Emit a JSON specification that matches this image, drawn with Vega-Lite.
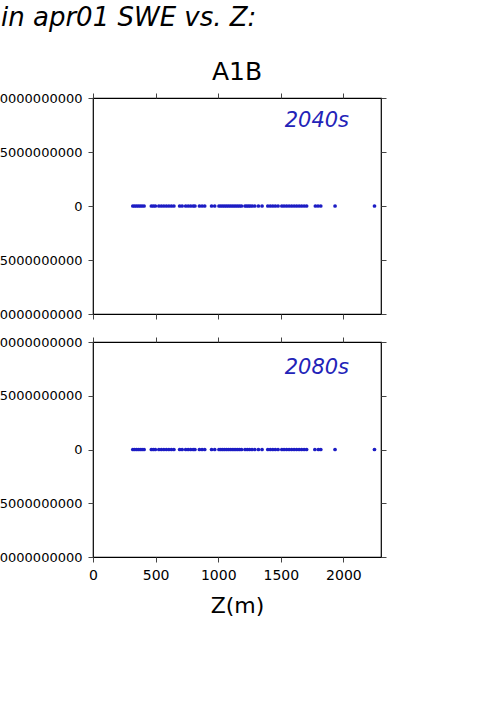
{
  "$schema": "https://vega.github.io/schema/vega-lite/v6.json",
  "autosize": {"type": "pad"},
  "padding": {"left": -21, "top": 5, "right": 0, "bottom": 0},
  "background": "white",
  "title": {"text": "in apr01 SWE vs. Z:", "anchor": "start", "frame": "group", "dx": -92, "fontSize": 26, "fontStyle": "italic", "fontWeight": "normal", "font": "DejaVu Sans", "color": "black", "offset": 28},
  "config": {
    "font": "DejaVu Sans",
    "view": {"stroke": "black", "strokeWidth": 1.2},
    "axis": {"grid": false, "domain": false, "tickColor": "#444", "tickSize": 5, "tickWidth": 1, "labelFont": "DejaVu Sans", "labelFontSize": 13, "labelColor": "black", "labelPadding": 6, "labelFlush": false, "labelOverlap": false},
    "title": {"font": "DejaVu Sans", "fontWeight": "normal"}
  },
  "datasets": {
    "pts": [
      {"period": "2040s", "z": 318, "swe": 0}, {"period": "2040s", "z": 332, "swe": 0}, {"period": "2040s", "z": 347, "swe": 0}, {"period": "2040s", "z": 362, "swe": 0}, {"period": "2040s", "z": 377, "swe": 0}, {"period": "2040s", "z": 392, "swe": 0}, {"period": "2040s", "z": 408, "swe": 0},
      {"period": "2040s", "z": 466, "swe": 0}, {"period": "2040s", "z": 482, "swe": 0}, {"period": "2040s", "z": 498, "swe": 0},
      {"period": "2040s", "z": 526, "swe": 0}, {"period": "2040s", "z": 546, "swe": 0}, {"period": "2040s", "z": 566, "swe": 0}, {"period": "2040s", "z": 586, "swe": 0}, {"period": "2040s", "z": 606, "swe": 0}, {"period": "2040s", "z": 626, "swe": 0}, {"period": "2040s", "z": 646, "swe": 0},
      {"period": "2040s", "z": 692, "swe": 0}, {"period": "2040s", "z": 712, "swe": 0}, {"period": "2040s", "z": 740, "swe": 0}, {"period": "2040s", "z": 760, "swe": 0}, {"period": "2040s", "z": 780, "swe": 0}, {"period": "2040s", "z": 800, "swe": 0}, {"period": "2040s", "z": 814, "swe": 0},
      {"period": "2040s", "z": 850, "swe": 0}, {"period": "2040s", "z": 871, "swe": 0}, {"period": "2040s", "z": 892, "swe": 0},
      {"period": "2040s", "z": 947, "swe": 0}, {"period": "2040s", "z": 972, "swe": 0},
      {"period": "2040s", "z": 1006, "swe": 0}, {"period": "2040s", "z": 1021, "swe": 0}, {"period": "2040s", "z": 1036, "swe": 0}, {"period": "2040s", "z": 1051, "swe": 0}, {"period": "2040s", "z": 1066, "swe": 0}, {"period": "2040s", "z": 1081, "swe": 0}, {"period": "2040s", "z": 1096, "swe": 0}, {"period": "2040s", "z": 1111, "swe": 0}, {"period": "2040s", "z": 1126, "swe": 0}, {"period": "2040s", "z": 1141, "swe": 0}, {"period": "2040s", "z": 1156, "swe": 0}, {"period": "2040s", "z": 1171, "swe": 0}, {"period": "2040s", "z": 1186, "swe": 0},
      {"period": "2040s", "z": 1214, "swe": 0}, {"period": "2040s", "z": 1228, "swe": 0}, {"period": "2040s", "z": 1242, "swe": 0}, {"period": "2040s", "z": 1256, "swe": 0}, {"period": "2040s", "z": 1272, "swe": 0}, {"period": "2040s", "z": 1292, "swe": 0},
      {"period": "2040s", "z": 1321, "swe": 0}, {"period": "2040s", "z": 1350, "swe": 0},
      {"period": "2040s", "z": 1396, "swe": 0}, {"period": "2040s", "z": 1416, "swe": 0}, {"period": "2040s", "z": 1436, "swe": 0}, {"period": "2040s", "z": 1456, "swe": 0}, {"period": "2040s", "z": 1478, "swe": 0},
      {"period": "2040s", "z": 1508, "swe": 0}, {"period": "2040s", "z": 1526, "swe": 0}, {"period": "2040s", "z": 1546, "swe": 0}, {"period": "2040s", "z": 1566, "swe": 0}, {"period": "2040s", "z": 1586, "swe": 0}, {"period": "2040s", "z": 1606, "swe": 0}, {"period": "2040s", "z": 1626, "swe": 0}, {"period": "2040s", "z": 1646, "swe": 0}, {"period": "2040s", "z": 1666, "swe": 0}, {"period": "2040s", "z": 1686, "swe": 0}, {"period": "2040s", "z": 1706, "swe": 0},
      {"period": "2040s", "z": 1776, "swe": 0}, {"period": "2040s", "z": 1797, "swe": 0}, {"period": "2040s", "z": 1819, "swe": 0},
      {"period": "2040s", "z": 1933, "swe": 0},
      {"period": "2040s", "z": 2248, "swe": 0},
      {"period": "2080s", "z": 318, "swe": 0}, {"period": "2080s", "z": 332, "swe": 0}, {"period": "2080s", "z": 347, "swe": 0}, {"period": "2080s", "z": 362, "swe": 0}, {"period": "2080s", "z": 377, "swe": 0}, {"period": "2080s", "z": 392, "swe": 0}, {"period": "2080s", "z": 408, "swe": 0},
      {"period": "2080s", "z": 466, "swe": 0}, {"period": "2080s", "z": 482, "swe": 0}, {"period": "2080s", "z": 498, "swe": 0},
      {"period": "2080s", "z": 526, "swe": 0}, {"period": "2080s", "z": 546, "swe": 0}, {"period": "2080s", "z": 566, "swe": 0}, {"period": "2080s", "z": 586, "swe": 0}, {"period": "2080s", "z": 606, "swe": 0}, {"period": "2080s", "z": 626, "swe": 0}, {"period": "2080s", "z": 646, "swe": 0},
      {"period": "2080s", "z": 692, "swe": 0}, {"period": "2080s", "z": 712, "swe": 0}, {"period": "2080s", "z": 740, "swe": 0}, {"period": "2080s", "z": 760, "swe": 0}, {"period": "2080s", "z": 780, "swe": 0}, {"period": "2080s", "z": 800, "swe": 0}, {"period": "2080s", "z": 814, "swe": 0},
      {"period": "2080s", "z": 850, "swe": 0}, {"period": "2080s", "z": 871, "swe": 0}, {"period": "2080s", "z": 892, "swe": 0},
      {"period": "2080s", "z": 947, "swe": 0}, {"period": "2080s", "z": 972, "swe": 0},
      {"period": "2080s", "z": 1006, "swe": 0}, {"period": "2080s", "z": 1021, "swe": 0}, {"period": "2080s", "z": 1036, "swe": 0}, {"period": "2080s", "z": 1051, "swe": 0}, {"period": "2080s", "z": 1066, "swe": 0}, {"period": "2080s", "z": 1081, "swe": 0}, {"period": "2080s", "z": 1096, "swe": 0}, {"period": "2080s", "z": 1111, "swe": 0}, {"period": "2080s", "z": 1126, "swe": 0}, {"period": "2080s", "z": 1141, "swe": 0}, {"period": "2080s", "z": 1156, "swe": 0}, {"period": "2080s", "z": 1171, "swe": 0}, {"period": "2080s", "z": 1186, "swe": 0},
      {"period": "2080s", "z": 1214, "swe": 0}, {"period": "2080s", "z": 1232, "swe": 0}, {"period": "2080s", "z": 1250, "swe": 0}, {"period": "2080s", "z": 1270, "swe": 0}, {"period": "2080s", "z": 1292, "swe": 0},
      {"period": "2080s", "z": 1321, "swe": 0}, {"period": "2080s", "z": 1350, "swe": 0},
      {"period": "2080s", "z": 1396, "swe": 0}, {"period": "2080s", "z": 1416, "swe": 0}, {"period": "2080s", "z": 1436, "swe": 0}, {"period": "2080s", "z": 1456, "swe": 0}, {"period": "2080s", "z": 1478, "swe": 0},
      {"period": "2080s", "z": 1508, "swe": 0}, {"period": "2080s", "z": 1526, "swe": 0}, {"period": "2080s", "z": 1546, "swe": 0}, {"period": "2080s", "z": 1566, "swe": 0}, {"period": "2080s", "z": 1586, "swe": 0}, {"period": "2080s", "z": 1606, "swe": 0}, {"period": "2080s", "z": 1626, "swe": 0}, {"period": "2080s", "z": 1646, "swe": 0}, {"period": "2080s", "z": 1666, "swe": 0}, {"period": "2080s", "z": 1686, "swe": 0}, {"period": "2080s", "z": 1706, "swe": 0},
      {"period": "2080s", "z": 1772, "swe": 0}, {"period": "2080s", "z": 1800, "swe": 0}, {"period": "2080s", "z": 1819, "swe": 0},
      {"period": "2080s", "z": 1933, "swe": 0},
      {"period": "2080s", "z": 2248, "swe": 0}
    ]
  },
  "spacing": 13,
  "vconcat": [
    {
      "width": 288,
      "height": 216,
      "title": {"text": "A1B", "fontSize": 25, "anchor": "middle", "offset": 7, "color": "black"},
      "resolve": {"axis": {"x": "independent", "y": "independent"}},
      "layer": [
        {
          "data": {"name": "pts"},
          "transform": [{"filter": "datum.period === '2040s'"}],
          "mark": {"type": "point", "filled": true, "size": 14, "color": "#1c1cc4", "opacity": 1},
          "encoding": {
            "x": {"field": "z", "type": "quantitative", "scale": {"domain": [0, 2300], "nice": false}, "axis": {"orient": "bottom", "values": [0, 500, 1000, 1500, 2000], "labels": false, "title": null}},
            "y": {"field": "swe", "type": "quantitative", "scale": {"domain": [-10000000000, 10000000000], "nice": false}, "axis": {"orient": "left", "values": [-10000000000, -5000000000, 0, 5000000000, 10000000000], "format": "d", "title": null}}
          }
        },
        {
          "data": {"values": [{"label": "2040s"}]},
          "mark": {"type": "text", "align": "right", "baseline": "middle", "fontSize": 21, "fontStyle": "italic", "color": "#2323b8"},
          "encoding": {
            "text": {"field": "label"},
            "x": {"datum": 2045, "type": "quantitative", "scale": {"domain": [0, 2300], "nice": false}, "axis": {"orient": "top", "values": [0, 500, 1000, 1500, 2000], "labels": false, "title": null}},
            "y": {"datum": 7900000000, "type": "quantitative", "scale": {"domain": [-10000000000, 10000000000], "nice": false}, "axis": {"orient": "right", "values": [-10000000000, -5000000000, 0, 5000000000, 10000000000], "labels": false, "title": null}}
          }
        }
      ]
    },
    {
      "width": 288,
      "height": 215,
      "resolve": {"axis": {"x": "independent", "y": "independent"}},
      "layer": [
        {
          "data": {"name": "pts"},
          "transform": [{"filter": "datum.period === '2080s'"}],
          "mark": {"type": "point", "filled": true, "size": 14, "color": "#1c1cc4", "opacity": 1},
          "encoding": {
            "x": {"field": "z", "type": "quantitative", "scale": {"domain": [0, 2300], "nice": false}, "axis": {"orient": "bottom", "values": [0, 500, 1000, 1500, 2000], "format": "d", "labelFontSize": 14, "title": "Z(m)", "titleFontSize": 22, "titleFontWeight": "normal", "titlePadding": 13, "titleColor": "black"}},
            "y": {"field": "swe", "type": "quantitative", "scale": {"domain": [-10000000000, 10000000000], "nice": false}, "axis": {"orient": "left", "values": [-10000000000, -5000000000, 0, 5000000000, 10000000000], "format": "d", "title": null}}
          }
        },
        {
          "data": {"values": [{"label": "2080s"}]},
          "mark": {"type": "text", "align": "right", "baseline": "middle", "fontSize": 21, "fontStyle": "italic", "color": "#2323b8"},
          "encoding": {
            "text": {"field": "label"},
            "x": {"datum": 2045, "type": "quantitative", "scale": {"domain": [0, 2300], "nice": false}, "axis": {"orient": "top", "values": [0, 500, 1000, 1500, 2000], "labels": false, "title": null}},
            "y": {"datum": 7600000000, "type": "quantitative", "scale": {"domain": [-10000000000, 10000000000], "nice": false}, "axis": {"orient": "right", "values": [-10000000000, -5000000000, 0, 5000000000, 10000000000], "labels": false, "title": null}}
          }
        }
      ]
    }
  ]
}
